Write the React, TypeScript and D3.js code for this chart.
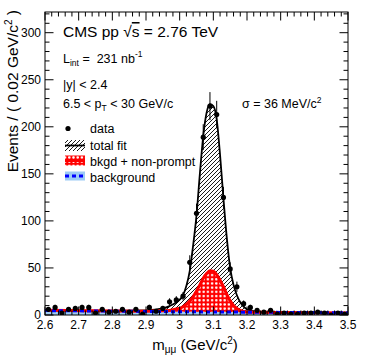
import React from "react";
import * as d3 from "d3";

// ---- data ----
const binCenters = [
  2.61, 2.63, 2.65, 2.67, 2.69, 2.71, 2.73, 2.75, 2.77, 2.79, 2.81, 2.83, 2.85, 2.87, 2.89,
  2.91, 2.93, 2.95, 2.97, 2.99, 3.01, 3.03, 3.05, 3.07, 3.09, 3.11, 3.13, 3.15, 3.17, 3.19,
  3.21, 3.23, 3.25, 3.27, 3.29, 3.31, 3.33, 3.35, 3.37, 3.39, 3.41, 3.43, 3.45, 3.47, 3.49,
];
const counts = [
  6, 8, 2, 6, 7, 8, 8, 2, 6, 3, 4, 6, 3, 6, 1,
  8, 4, 7, 14, 16, 20, 56, 108, 189, 222, 213, 125, 49, 30, 12,
  8, 5, 3, 5, 1, 2, 1, 1, 2, 2, 3, 2, 0, 2, 1,
];

const fitMass = [
  2.6, 2.8, 2.9, 2.95, 2.97, 2.99, 3.01, 3.02, 3.03, 3.04, 3.05, 3.06, 3.07, 3.08, 3.09,
  3.1, 3.11, 3.12, 3.13, 3.14, 3.15, 3.16, 3.17, 3.18, 3.19, 3.2, 3.22, 3.25, 3.3, 3.5,
];
const totalFit = [
  5.0, 4.4, 4.9, 7.0, 9.5, 13.5, 21, 31, 47, 74, 106, 150, 190, 215, 224,
  222, 208, 170, 124, 82, 50, 32, 21, 13.5, 9, 6.2, 4, 3, 2.7, 2.1,
];
const bkgdNonPrompt = [
  5.0, 4.3, 4.1, 4.4, 4.9, 6.3, 8.8, 11.5, 15, 19.5, 25.5, 32, 39, 44, 47,
  46.5, 43, 37, 30, 22, 15, 10, 7, 5, 3.8, 3.2, 2.9, 2.8, 2.6, 2.1,
];
const bgMass = [2.6, 2.8, 3.0, 3.2, 3.5];
const background = [4.7, 4.1, 3.5, 3.0, 2.4];

const yMajorTicks = [0, 50, 100, 150, 200, 250, 300];
const xMajorTicks = [2.6, 2.7, 2.8, 2.9, 3.0, 3.1, 3.2, 3.3, 3.4, 3.5];
const xTickLabels = ["2.6", "2.7", "2.8", "2.9", "3", "3.1", "3.2", "3.3", "3.4", "3.5"];

const FONT = "'Liberation Sans', Arial, Helvetica, sans-serif";

export default function App() {
  const W = 374, H = 359;
  const L = 45, R = 348, T = 12, B = 315;
  const x = d3.scaleLinear().domain([2.6, 3.5]).range([L, R]);
  const y = d3.scaleLinear().domain([0, 322]).range([B, T]);

  const pts = (xs: number[], ys: number[]) => xs.map((v, i) => [v, ys[i]] as [number, number]);
  const area = d3
    .area<[number, number]>()
    .x((d) => x(d[0]))
    .y0(y(0))
    .y1((d) => y(d[1]))
    .curve(d3.curveMonotoneX);
  const line = d3
    .line<[number, number]>()
    .x((d) => x(d[0]))
    .y((d) => y(d[1]))
    .curve(d3.curveMonotoneX);

  const totalPts = pts(fitMass, totalFit);
  const redPts = pts(fitMass, bkgdNonPrompt);
  const bgPts = pts(bgMass, background);

  const yMinor = d3.range(0, 321, 10);
  const xMinor = d3.range(0, 46).map((i) => 2.6 + i * 0.02);

  const tickMaj = 8.5, tickMin = 4.5;

  return (
    <svg width={W} height={H} style={{ display: "block", position: "absolute", left: 0, top: 0 }} fontFamily={FONT}>
      <defs>
        <pattern id="hatch" patternUnits="userSpaceOnUse" width={4} height={4}>
          <path d="M-1,1 l2,-2 M0,4 l4,-4 M3,5 l2,-2" stroke="#000" strokeWidth={0.9} />
        </pattern>
        <pattern id="redx" patternUnits="userSpaceOnUse" width={4.2} height={4.2}>
          <rect width={4.2} height={4.2} fill="#ff0000" />
          <circle cx={2.1} cy={2.1} r={1.25} fill="#fff" />
        </pattern>
        <clipPath id="frame">
          <rect x={L} y={T} width={R - L} height={B - T} />
        </clipPath>
      </defs>
      <rect width={W} height={H} fill="#fff" />

      <g clipPath="url(#frame)">
        <path d={area(totalPts) || ""} fill="url(#hatch)" />
        <path d={area(redPts) || ""} fill="url(#redx)" />
        <path d={area(bgPts) || ""} fill="#9dcbf5" />
        <path d={line(totalPts) || ""} fill="none" stroke="#000" strokeWidth={1.8} />
        <path d={line(redPts) || ""} fill="none" stroke="#ff0000" strokeWidth={3} />
        <path d={line(bgPts) || ""} fill="none" stroke="#0000ff" strokeWidth={3} strokeDasharray="4,3" />
        {binCenters.map((m, i) => {
          const n = counts[i];
          const e = Math.sqrt(n);
          return (
            <g key={i}>
              {n > 0 && (
                <line x1={x(m)} x2={x(m)} y1={y(n - e)} y2={y(n + e)} stroke="#000" strokeWidth={1} />
              )}
              <circle cx={x(m)} cy={y(n)} r={2.6} fill="#000" />
            </g>
          );
        })}
      </g>

      {/* frame */}
      <rect x={L} y={T} width={R - L} height={B - T} fill="none" stroke="#000" strokeWidth={1} />
      {/* y ticks */}
      {yMinor.map((v) => {
        const len = v % 50 === 0 ? tickMaj : tickMin;
        return (
          <g key={"y" + v}>
            <line x1={L} x2={L + len} y1={y(v)} y2={y(v)} stroke="#000" />
            <line x1={R} x2={R - len} y1={y(v)} y2={y(v)} stroke="#000" />
          </g>
        );
      })}
      {xMinor.map((v, i) => {
        const len = i % 5 === 0 ? tickMaj : tickMin;
        return (
          <g key={"x" + i}>
            <line x1={x(v)} x2={x(v)} y1={B} y2={B - len} stroke="#000" />
            <line x1={x(v)} x2={x(v)} y1={T} y2={T + len} stroke="#000" />
          </g>
        );
      })}
      {yMajorTicks.map((v) => (
        <text key={"yl" + v} x={41} y={y(v) + 4.2} fontSize={12} textAnchor="end">
          {v}
        </text>
      ))}
      {xMajorTicks.map((v, i) => (
        <text key={"xl" + i} x={x(v)} y={329} fontSize={12} textAnchor="middle">
          {xTickLabels[i]}
        </text>
      ))}

      {/* axis titles */}
      <text x={195} y={350} fontSize={15} textAnchor="middle">
        m<tspan fontSize={10} dy={3}>μμ</tspan>
        <tspan dy={-3}> (GeV/c</tspan>
        <tspan fontSize={10} dy={-6}>2</tspan>
        <tspan dy={6}>)</tspan>
      </text>
      <text transform="translate(18,10) rotate(-90)" fontSize={15.5} textAnchor="end">
        Events / ( 0.02 GeV/c<tspan fontSize={10} dy={-6}>2</tspan>
        <tspan dy={6}> )</tspan>
      </text>

      {/* labels */}
      <text x={63} y={37} fontSize={15.5}>
        CMS pp √<tspan style={{ textDecoration: "overline" }}>s</tspan> = 2.76 TeV
      </text>
      <text x={63} y={63} fontSize={12.5}>
        L<tspan fontSize={8.5} dy={3}>int</tspan>
        <tspan dy={-3}>{" =\u00a0\u00a0231 nb"}</tspan>
        <tspan fontSize={8.5} dy={-6}>-1</tspan>
      </text>
      <text x={63} y={89} fontSize={12.5}>|y| &lt; 2.4</text>
      <text x={63} y={108} fontSize={12.5}>
        6.5 &lt; p<tspan fontSize={8.5} dy={3}>T</tspan>
        <tspan dy={-3}> &lt; 30 GeV/c</tspan>
      </text>
      <text x={242} y={108} fontSize={12.5}>
        σ = 36 MeV/c<tspan fontSize={8.5} dy={-5}>2</tspan>
      </text>

      {/* legend */}
      <circle cx={68} cy={128.5} r={2.6} fill="#000" />
      <text x={90} y={133} fontSize={12.5}>data</text>

      <rect x={65} y={140} width={20} height={11} fill="url(#hatch)" />
      <line x1={65} x2={85} y1={145.5} y2={145.5} stroke="#000" strokeWidth={1.8} />
      <text x={90} y={150} fontSize={12.5}>total fit</text>

      <rect x={65} y={155.5} width={20} height={10} fill="url(#redx)" />
      <line x1={65} x2={85} y1={160.5} y2={160.5} stroke="#ff0000" strokeWidth={3} />
      <text x={90} y={166} fontSize={12.5}>bkgd + non-prompt</text>

      <rect x={65} y={171.5} width={20} height={9} fill="#9dcbf5" />
      <line x1={65} x2={85} y1={176} y2={176} stroke="#0000ff" strokeWidth={3} strokeDasharray="4,3" />
      <text x={90} y={182} fontSize={12.5}>background</text>
    </svg>
  );
}
